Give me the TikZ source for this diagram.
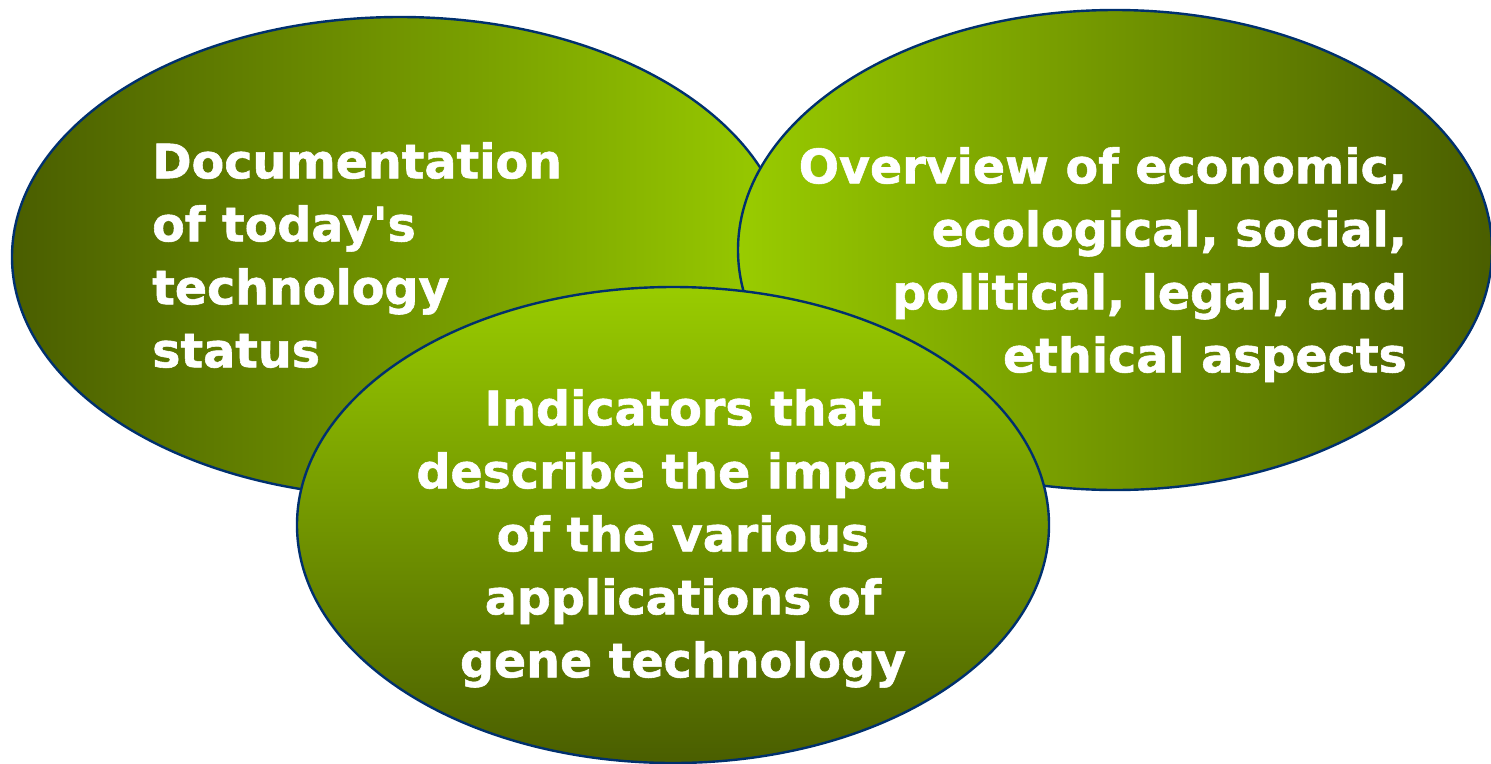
\documentclass[tikz,border=0pt]{standalone}
\usepackage{fontspec}
\setmainfont{DejaVu Sans}[BoldFeatures={FakeBold=1.2}]
\usetikzlibrary{shapes.geometric}
\definecolor{lime}{HTML}{99CC00}
\definecolor{olive}{HTML}{4A5E00}
\definecolor{navy}{HTML}{00306E}
\tikzset{
  blob/.style={ellipse, draw=navy, line width=2.4pt, inner sep=0pt},
  lbl/.style={text=white, font=\fontsize{47.5}{63}\selectfont\bfseries, inner sep=0pt}
}
\begin{document}
\begin{tikzpicture}[x=1pt,y=-1pt]
\useasboundingbox (0,0) rectangle (1491,763);
\node[blob, minimum width=776pt, minimum height=480pt, left color=olive, right color=lime] (L) at (400,257) {};
\node[blob, minimum width=754pt, minimum height=480pt, left color=lime, right color=olive] (R) at (1115,250) {};
\node[blob, minimum width=752pt, minimum height=476pt, top color=lime, bottom color=olive] (B) at (673,525) {};
\node[lbl, align=left, anchor=north west] (tl) at (152,142) {Documentation\\of today\textquotesingle s\\technology\\status};
\node[lbl, align=right, anchor=north east] (tr) at (1407,147) {Overview of economic,\\ecological, social,\\political, legal, and\\ethical aspects};
\node[lbl, align=center, anchor=north] (tb) at (683,389) {Indicators that\\describe the impact\\of the various\\applications of\\gene technology};
\end{tikzpicture}
\end{document}
